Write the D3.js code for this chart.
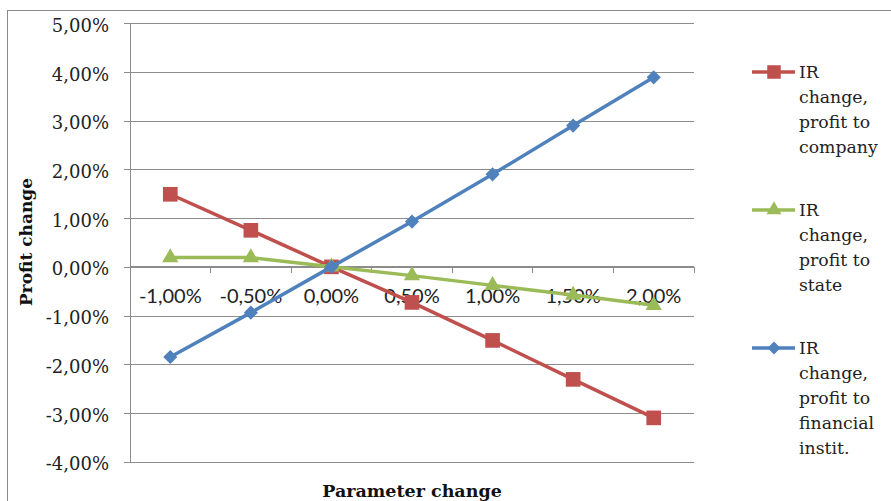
<!DOCTYPE html>
<html>
<head>
<meta charset="utf-8">
<script src="https://cdn.jsdelivr.net/npm/d3@7"></script>
<style>
  html, body { margin: 0; padding: 0; background: #fff; }
  svg { display: block; }
</style>
</head>
<body>
<svg id="chart" width="891" height="501"></svg>
<script>
// ---- data ----
const categories = ["-1,00%", "-0,50%", "0,00%", "0,50%", "1,00%", "1,50%", "2,00%"];
const profitCompany = [1.49, 0.75, 0.00, -0.73, -1.51, -2.31, -3.10];
const profitState = [0.19, 0.19, 0.00, -0.18, -0.38, -0.58, -0.79];
const profitFinancial = [-1.85, -0.94, 0.00, 0.93, 1.90, 2.90, 3.89];
const yTickValues = [-4, -3, -2, -1, 0, 1, 2, 3, 4, 5];
const seriesNames = [
  ["IR", "change,", "profit to", "company"],
  ["IR", "change,", "profit to", "state"],
  ["IR", "change,", "profit to", "financial", "instit."]
];
const yTitle = "Profit change";
const xTitle = "Parameter change";

(function () {
// ---- layout ----
const svg = d3.select("#chart");
const pLeft = 130, pRight = 694, pTop = 23.3, pBottom = 461.7;
const serif = "'DejaVu Serif', serif";
const sans = "Lato, 'Liberation Sans', sans-serif";
const gridColor = "#8c8c8c";

svg.append("rect").attr("width", 891).attr("height", 501).attr("fill", "#fff");
svg.append("rect")
  .attr("x", 7.5).attr("y", 10.5).attr("width", 950).attr("height", 600)
  .attr("fill", "none").attr("stroke", "#8a8a8a").attr("stroke-width", 1);

const x = d3.scaleBand().domain(categories).range([pLeft, pRight]).padding(0);
const y = d3.scaleLinear().domain([-4, 5]).range([pBottom, pTop]);
const cx = c => x(c) + x.bandwidth() / 2;

// y axis with gridlines
const yAxis = d3.axisLeft(y)
  .tickValues(yTickValues)
  .tickSizeInner(-(pRight - (pLeft - 6)))
  .tickSizeOuter(0)
  .tickPadding(15)
  .tickFormat(d => d3.format(".2f")(d).replace(".", ",").replace("\u2212", "-") + "%");
const gy = svg.append("g").attr("transform", `translate(${pLeft - 6},0)`).call(yAxis);
gy.select(".domain").remove();
gy.selectAll(".tick line").attr("stroke", gridColor).attr("shape-rendering", "crispEdges");
gy.selectAll(".tick text")
  .attr("dy", "0.45em")
  .attr("fill", "#222")
  .style("font-family", serif).style("font-size", "18px");

// y axis line
svg.append("line")
  .attr("x1", pLeft).attr("x2", pLeft).attr("y1", pTop).attr("y2", pBottom)
  .attr("stroke", gridColor).attr("shape-rendering", "crispEdges");

// x axis at y = 0
const y0 = y(0);
const xAxis = d3.axisBottom(x).tickSize(0).tickPadding(21.5);
const gx = svg.append("g").attr("transform", `translate(0,${y0})`).call(xAxis);
gx.select(".domain").remove();
gx.selectAll(".tick text")
  .attr("fill", "#222")
  .style("font-family", sans).style("font-size", "20px");
svg.append("line")
  .attr("x1", pLeft).attr("x2", pRight).attr("y1", y0).attr("y2", y0)
  .attr("stroke", gridColor).attr("shape-rendering", "crispEdges");
svg.append("g").selectAll("line")
  .data(categories)
  .join("line")
  .attr("x1", d => x(d) + x.bandwidth()).attr("x2", d => x(d) + x.bandwidth())
  .attr("y1", y0).attr("y2", y0 + 6)
  .attr("stroke", gridColor).attr("shape-rendering", "crispEdges");

// series
const series = [
  { values: profitCompany, color: "#C0504D", symbol: d3.symbolSquare, size: 215, rot: 0 },
  { values: profitState, color: "#9BBB59", symbol: d3.symbolTriangle, size: 115, rot: 0 },
  { values: profitFinancial, color: "#4F81BD", symbol: d3.symbolSquare, size: 100, rot: 45 }
];
const line = d3.line().x((d, i) => cx(categories[i])).y(d => y(d));

series.forEach(s => {
  svg.append("path")
    .attr("d", line(s.values))
    .attr("fill", "none").attr("stroke", s.color)
    .attr("stroke-width", 3.5).attr("stroke-linejoin", "round");
  svg.append("g").selectAll("path")
    .data(s.values)
    .join("path")
    .attr("transform", (d, i) => `translate(${cx(categories[i])},${y(d)}) rotate(${s.rot})`)
    .attr("d", d3.symbol().type(s.symbol).size(s.size))
    .attr("fill", s.color);
});

// axis titles
svg.append("text")
  .attr("transform", "translate(32,242) rotate(-90)")
  .attr("text-anchor", "middle")
  .style("font-family", serif).style("font-size", "17px").style("font-weight", "bold")
  .attr("fill", "#111")
  .text(yTitle);
svg.append("text")
  .attr("x", 412).attr("y", 497)
  .attr("text-anchor", "middle")
  .style("font-family", serif).style("font-size", "17.5px").style("font-weight", "bold")
  .attr("fill", "#111")
  .text(xTitle);

// legend
const legendY = [72, 210, 348];
series.forEach((s, k) => {
  const g = svg.append("g").attr("transform", `translate(0,${legendY[k]})`);
  g.append("line").attr("x1", 752).attr("x2", 795).attr("y1", 0).attr("y2", 0)
    .attr("stroke", s.color).attr("stroke-width", 3.5);
  g.append("path").attr("transform", `translate(774,0) rotate(${s.rot})`)
    .attr("d", d3.symbol().type(s.symbol).size(s.size * 0.85))
    .attr("fill", s.color);
  const t = g.append("text")
    .style("font-family", serif).style("font-size", "17.3px")
    .attr("fill", "#222");
  seriesNames[k].forEach((ln, j) => {
    t.append("tspan").attr("x", 799).attr("y", 6 + j * 25).text(ln);
  });
});
})();
</script>
</body>
</html>
